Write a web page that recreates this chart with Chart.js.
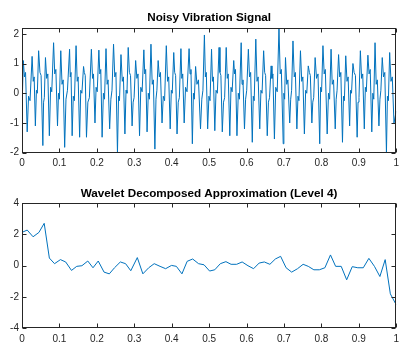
<!DOCTYPE html>
<html>
<head>
<meta charset="utf-8">
<script src="https://cdn.jsdelivr.net/npm/chart.js@4/dist/chart.umd.min.js"></script>
<style>
html,body{margin:0;padding:0;background:#fff;}
body{width:404px;height:344px;overflow:hidden;position:relative;}
.box{position:absolute;left:0;}
</style>
</head>
<body>
<div class="box" style="top:0;width:404px;height:176px"><canvas id="c1" width="404" height="176"></canvas></div>
<div class="box" style="top:176px;width:404px;height:168px"><canvas id="c2" width="404" height="168"></canvas></div>
<script>
// ---- data ----
const titleTop = "Noisy Vibration Signal";
const titleBottom = "Wavelet Decomposed Approximation (Level 4)";

const xTickValues = [0,0.1,0.2,0.3,0.4,0.5,0.6,0.7,0.8,0.9,1];
const yTicksTop = [-2,-1,0,1,2];
const yTicksBottom = [-4,-2,0,2,4];

// noisy signal: times (s) and amplitudes (each extreme followed by its two wiggle points)
const sigT = [0,
0.0035,0.0065,0.0095, 0.0139,0.0175,0.0215, 0.0270,0.030,0.0325, 0.0357,0.0385,0.041, 0.0444,0.048,0.051,
0.0557,0.0577,0.0597, 0.0627,0.066,0.069, 0.0731,0.0765,0.0795, 0.0844,0.0875,0.0905, 0.0949,0.0975,0.100,
0.1036,0.107,0.110, 0.1140,0.1175,0.1215, 0.1271,0.129,0.131, 0.1340,0.137,0.140, 0.1445,0.1475,0.150,
0.1540,0.157,0.160, 0.1645,0.1665,0.169, 0.1723,0.176,0.180, 0.1854,0.1885,0.191, 0.1950,0.198,0.201,
0.2054,0.208,0.2105, 0.2141,0.2175,0.2205, 0.2245,0.2275,0.230, 0.2342,0.2375,0.2405, 0.2446,0.248,0.251,
0.2551,0.258,0.2605, 0.2645,0.268,0.271, 0.2750,0.278,0.2805, 0.2838,0.287,0.290, 0.2942,0.297,0.2995,
0.3037,0.307,0.310, 0.3141,0.3175,0.321, 0.3256,0.328,0.3305, 0.3342,0.3375,0.3405, 0.3446,0.348,0.351,
0.3551,0.358,0.3605, 0.3638,0.367,0.370, 0.3742,0.3775,0.381, 0.3856,0.389,0.392, 0.3960,0.399,0.4015,
0.4055,0.408,0.4105, 0.4143,0.4175,0.4205, 0.4247,0.427,0.4295, 0.4334,0.437,0.441, 0.4465,0.449,0.4515,
0.4552,0.458,0.4605, 0.4639,0.4675,0.4715, 0.4770,0.4805,0.4835, 0.4874,0.490,0.4925, 0.4961,0.4995,0.5025,
0.5065,0.509,0.5115, 0.5152,0.5185,0.522, 0.5266,0.529,0.5315, 0.5352,0.5385,0.5415, 0.5457,0.5485,0.551,
0.5553,0.5585,0.5615, 0.5658,0.568,0.5705, 0.5744,0.578,0.581, 0.5857,0.588,0.5905, 0.5945,0.5975,0.6005,
0.6049,0.608,0.611, 0.6154,0.618,0.6205, 0.6248,0.628,0.631, 0.6353,0.6385,0.6415, 0.6457,0.6485,0.651,
0.6554,0.6585,0.6615, 0.6658,0.668,0.6705, 0.6745,0.678,0.682, 0.6867,0.690,0.693, 0.6980,0.6998,0.7018,
0.7041,0.7075,0.7105, 0.7154,0.718,0.7205, 0.7241,0.7275,0.7305, 0.7345,0.7375,0.740, 0.7441,0.7475,0.7505,
0.7546,0.758,0.761, 0.7650,0.768,0.7705, 0.7746,0.777,0.7795, 0.7833,0.787,0.791, 0.7956,0.798,0.8005,
0.8042,0.8075,0.8105, 0.8155,0.819,0.822, 0.8259,0.829,0.8325, 0.8370,0.8395,0.842, 0.8460,0.849,0.852,
0.8564,0.859,0.8615, 0.8651,0.8685,0.8715, 0.8755,0.878,0.8805, 0.8843,0.8875,0.891, 0.8956,0.898,0.9005,
0.9042,0.9075,0.9105, 0.9147,0.9175,0.920, 0.9243,0.9275,0.9305, 0.9347,0.9375,0.940, 0.9434,0.9465,0.9495,
0.9538,0.9565,0.959, 0.9627,0.966,0.9695, 0.9739,0.9765,0.979, 0.9825,0.986,0.9895, 0.9940,1.000];
const sigV = [-0.60,
1.10,0.55,0.70, -1.30,-0.10,-0.25, 1.24,0.40,0.55, -1.10,0.10,0.00, 1.43,0.70,0.60,
-1.76,-0.30,-0.15, 1.20,0.50,0.65, -1.43,0.20,0.05, 1.70,0.65,0.80, -1.10,0.00,-0.20,
1.43,0.30,0.45, -1.82,-0.20,0.10, 1.48,0.55,0.70, -1.43,-0.10,-0.25, 1.60,0.40,0.55,
-1.48,0.10,0.00, 0.90,0.70,0.60, -1.48,-0.30,-0.15, 1.48,0.50,0.65, -1.00,0.20,0.05,
1.45,0.65,0.80, -1.48,0.00,-0.20, 1.50,0.30,0.45, -1.20,-0.20,0.10, 1.65,0.55,0.70,
-2.00,-0.10,-0.25, 1.30,0.40,0.55, -1.37,0.10,0.00, 1.54,0.70,0.60, -1.10,-0.30,-0.15,
1.10,0.50,0.65, -1.43,0.20,0.05, 1.46,0.65,0.80, -1.30,0.00,-0.20, 1.65,0.30,0.45,
-1.88,-0.20,0.10, 1.10,0.55,0.70, -1.00,-0.10,-0.25, 1.60,0.40,0.55, -1.20,0.10,0.00,
1.37,0.70,0.60, -1.37,-0.30,-0.15, 1.50,0.50,0.65, -1.00,0.20,0.05, 1.50,0.65,0.80,
-1.70,0.00,-0.20, 0.90,0.30,0.45, -1.20,-0.20,0.10, 1.96,0.55,0.70, -1.20,-0.10,-0.25,
1.48,0.40,0.55, -1.26,0.10,0.00, 1.54,0.70,0.60, -1.30,-0.30,-0.15, 1.54,0.50,0.65,
-1.43,0.20,0.05, 1.10,0.65,0.80, -1.43,0.00,-0.20, 1.70,0.30,0.45, -1.20,-0.20,0.10,
1.48,0.55,0.70, -1.65,-0.10,-0.25, 1.82,0.40,0.55, -1.20,0.10,0.00, 1.43,0.70,0.60,
-1.43,-0.30,-0.15, 0.92,0.50,0.65, -1.54,0.20,0.05, 2.18,0.65,0.80, -1.70,0.00,-0.20,
1.20,0.30,0.45, -1.00,-0.20,0.10, 1.76,0.55,0.70, -1.20,-0.10,-0.25, 1.43,0.40,0.55,
-1.37,0.10,0.00, 0.92,0.70,0.60, -1.00,-0.30,-0.15, 1.20,0.50,0.65, -1.70,0.20,0.05,
1.60,0.65,0.80, -1.37,0.00,-0.20, 1.48,0.30,0.45, -1.20,-0.20,0.10, 1.30,0.55,0.70,
-1.65,-0.10,-0.25, 1.26,0.40,0.55, -1.10,0.10,0.00, 1.00,0.70,0.60, -1.48,-0.30,-0.15,
1.43,0.50,0.65, -1.20,0.20,0.05, 1.28,0.65,0.80, -1.30,0.00,-0.20, 1.70,0.30,0.45,
-1.10,-0.20,0.10, 1.20,0.55,0.70, -2.00,-0.10,-0.25, 1.37,0.40,0.55, -1.00,-0.60];

// level-4 approximation
const apxT = [0,0.0139,0.0296,0.0453,0.0593,0.0731,0.0870,0.1027,0.1167,0.1323,0.1462,0.1601,0.1758,0.1897,0.2037,0.2193,0.2333,0.2472,0.2628,0.2768,0.2907,0.3081,0.3230,0.3386,0.3533,0.3689,0.3838,0.3995,0.4125,0.4274,0.4413,0.4561,0.4718,0.4864,0.5013,0.5151,0.5300,0.5449,0.5587,0.5736,0.5883,0.6039,0.6188,0.6337,0.6475,0.6624,0.6770,0.6911,0.7057,0.7206,0.7363,0.7512,0.7650,0.7799,0.7945,0.8094,0.8243,0.8381,0.8530,0.8676,0.8825,0.8974,0.9120,0.9269,0.9418,0.9564,0.9705,0.9843,1.0];
const apxV = [2.13,2.28,1.85,2.13,2.71,0.49,0.13,0.39,0.24,-0.30,-0.04,0.00,0.30,-0.13,0.30,-0.41,-0.52,-0.13,0.24,0.13,-0.32,0.52,-0.52,-0.13,0.13,-0.04,-0.19,0.02,-0.04,-0.52,0.28,0.43,0.13,0.06,-0.34,-0.26,0.13,0.26,0.09,0.09,0.24,0.00,-0.19,0.17,0.24,0.09,0.43,0.60,-0.13,-0.41,-0.19,0.09,-0.04,-0.26,-0.26,-0.13,0.69,-0.04,-0.04,-0.90,-0.06,-0.13,-0.13,0.47,-0.04,-0.69,0.39,-1.80,-2.50];

// ---- rendering ----
const FONT = "'Liberation Sans', Arial, Helvetica, sans-serif";
const AX = '#262626';
const LINE = '#0072BD';

function pts(ts, vs){ const n=Math.min(ts.length, vs.length); const o=[]; for(let i=0;i<n;i++) o.push({x:ts[i], y:vs[i]}); return o; }

const boxPlugin = {
  id:'matlabBox',
  afterDraw(chart){
    const {ctx, chartArea:a, scales} = chart;
    const x = scales.x, y = scales.y;
    const L=Math.round(a.left)+0.5, R=Math.round(a.right)-0.5, T=Math.round(a.top)+0.5, B=Math.round(a.bottom)-0.5;
    ctx.save();
    ctx.strokeStyle=AX; ctx.lineWidth=1;
    ctx.strokeRect(L,T,R-L,B-T);
    ctx.beginPath();
    x.ticks.forEach(t=>{ const p=Math.round(x.getPixelForValue(t.value))+0.5; ctx.moveTo(p,B); ctx.lineTo(p,B-4); ctx.moveTo(p,T); ctx.lineTo(p,T+4); });
    y.ticks.forEach(t=>{ const p=Math.round(y.getPixelForValue(t.value))+0.5; ctx.moveTo(L,p); ctx.lineTo(L+4,p); ctx.moveTo(R,p); ctx.lineTo(R-4,p); });
    ctx.stroke();
    ctx.restore();
  }
};

function makeChart(id, data, title, yMin, yMax, yTicks, tPad, bPad, xH){
  return new Chart(document.getElementById(id), {
    type:'line',
    data:{ datasets:[{ data, borderColor:LINE, borderWidth:1, pointRadius:0, tension:0, fill:false }]},
    options:{
      responsive:false, animation:false, devicePixelRatio:1,
      layout:{ padding:{left:0,right:0,top:0,bottom:0}, autoPadding:false },
      parsing:false, normalized:true,
      plugins:{
        legend:{display:false}, tooltip:{enabled:false},
        title:{ display:true, text:title, fullSize:false, color:'#000',
          font:{family:FONT, size:11.7, weight:'bold', lineHeight:1.2},
          padding:{top:tPad, bottom:bPad} }
      },
      scales:{
        x:{ type:'linear', min:0, max:1,
          grid:{display:false, drawTicks:false}, border:{display:false},
          afterBuildTicks:s=>{ s.ticks = xTickValues.map(v=>({value:v})); },
          afterFit:s=>{ s.height = xH; },
          ticks:{ color:AX, padding:5, maxRotation:0, autoSkip:false, font:{family:FONT,size:10},
            callback:v=>String(Math.round(v*10)/10) } },
        y:{ type:'linear', min:yMin, max:yMax,
          grid:{display:false, drawTicks:false}, border:{display:false},
          afterBuildTicks:s=>{ s.ticks = yTicks.map(v=>({value:v})); },
          afterFit:s=>{ s.width = 22; },
          ticks:{ color:AX, padding:3, autoSkip:false, font:{family:FONT,size:10},
            callback:v=>String(v) } }
      }
    },
    plugins:[boxPlugin]
  });
}

makeChart('c1', pts(sigT, sigV), titleTop, -2, 2.19, yTicksTop, 10.8, 3.3, 23.3);
makeChart('c2', pts(apxT, apxV), titleBottom, -4, 4, yTicksBottom, 10.7, 2.4, 15.7);
</script>
</body>
</html>
